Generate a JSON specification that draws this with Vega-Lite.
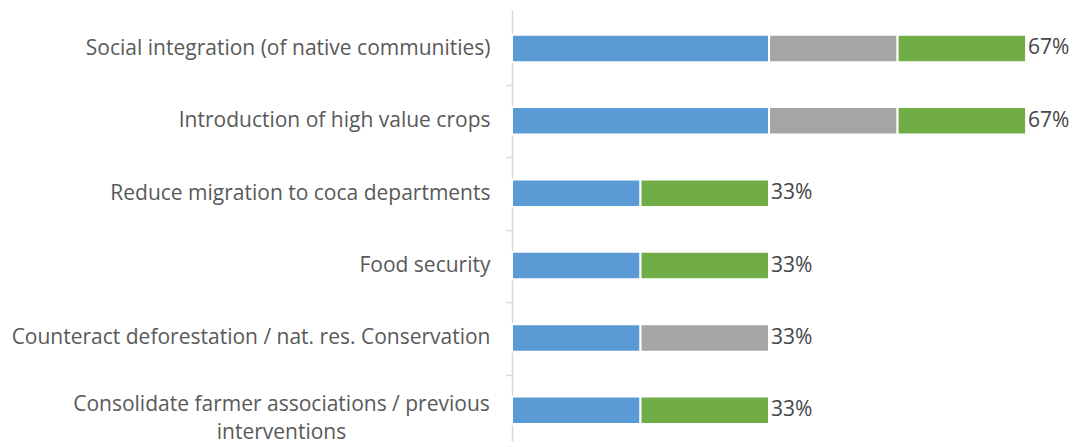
{
  "$schema": "https://vega.github.io/schema/vega-lite/v6.json",
  "autosize": {"type": "fit", "contains": "padding"},
  "padding": {"left": 0, "top": 10, "right": 0, "bottom": 0},
  "width": 1073,
  "height": 447,
  "background": "white",
  "config": {
    "view": {"stroke": null},
    "font": "Open Sans",
    "style": {"guide-label": {"lineBreak": "\n"}}
  },
  "data": {"values": [
      {"cat": "Social integration (of native communities)", "series": "A", "value": 0.6667, "end": 0.6667, "label": ""},
      {"cat": "Social integration (of native communities)", "series": "B", "value": 0.3333, "end": 1.0, "label": ""},
      {"cat": "Social integration (of native communities)", "series": "C", "value": 0.3333, "end": 1.3333, "label": "67%"},
      {"cat": "Introduction of high value crops", "series": "A", "value": 0.6667, "end": 0.6667, "label": ""},
      {"cat": "Introduction of high value crops", "series": "B", "value": 0.3333, "end": 1.0, "label": ""},
      {"cat": "Introduction of high value crops", "series": "C", "value": 0.3333, "end": 1.3333, "label": "67%"},
      {"cat": "Reduce migration to coca departments", "series": "A", "value": 0.3333, "end": 0.3333, "label": ""},
      {"cat": "Reduce migration to coca departments", "series": "C", "value": 0.3333, "end": 0.6667, "label": "33%"},
      {"cat": "Food security", "series": "A", "value": 0.3333, "end": 0.3333, "label": ""},
      {"cat": "Food security", "series": "C", "value": 0.3333, "end": 0.6667, "label": "33%"},
      {"cat": "Counteract deforestation / nat. res. Conservation", "series": "A", "value": 0.3333, "end": 0.3333, "label": ""},
      {"cat": "Counteract deforestation / nat. res. Conservation", "series": "B", "value": 0.3333, "end": 0.6667, "label": "33%"},
      {"cat": "Consolidate farmer associations / previous\ninterventions", "series": "A", "value": 0.3333, "end": 0.3333, "label": ""},
      {"cat": "Consolidate farmer associations / previous\ninterventions", "series": "C", "value": 0.3333, "end": 0.6667, "label": "33%"}
  ]},
  "encoding": {
    "y": {
      "field": "cat",
      "type": "nominal",
      "sort": null,
      "scale": {"paddingInner": 0.62, "paddingOuter": 0.287, "align": 0.593},
      "axis": {
        "title": null,
        "minExtent": 512,
        "maxExtent": 512,
        "domainColor": "#d9d9d9",
        "domainWidth": 1.5,
        "tickColor": "#d9d9d9",
        "tickWidth": 1.5,
        "tickSize": 6,
        "tickOffset": 36.7,
        "labelOffset": {"condition": {"test": "indexof(datum.value, 'Consolidate') == 0", "value": -42.7}, "value": -36.7},
        "labelColor": "#595959",
        "labelFontSize": 21,
        "labelFont": "Open Sans",
        "labelLineHeight": 28,
        "labelPadding": {"condition": {"test": "indexof(datum.value, 'Consolidate') == 0", "value": 225}, "value": 16},
        "labelAlign": {"condition": {"test": "indexof(datum.value, 'Consolidate') == 0", "value": "center"}, "value": "right"},
        "labelLimit": 600
      }
    },
    "x": {"field": "value", "type": "quantitative", "scale": {"domain": [0, 1.455], "nice": false}, "axis": null}
  },
  "layer": [
    {
      "mark": {"type": "bar", "stroke": "white", "strokeWidth": 2},
      "encoding": {
        "color": {"field": "series", "type": "nominal", "scale": {"domain": ["A", "B", "C"], "range": ["#5b9bd5", "#a5a5a5", "#70ad47"]}, "legend": null}
      }
    },
    {
      "mark": {"type": "text", "align": "left", "baseline": "middle", "dx": 2, "fontSize": 21, "color": "#454545", "font": "Open Sans"},
      "encoding": {
        "x": {"field": "end", "type": "quantitative"},
        "text": {"field": "label"},
        "detail": {"field": "series", "type": "nominal"}
      }
    }
  ]
}
